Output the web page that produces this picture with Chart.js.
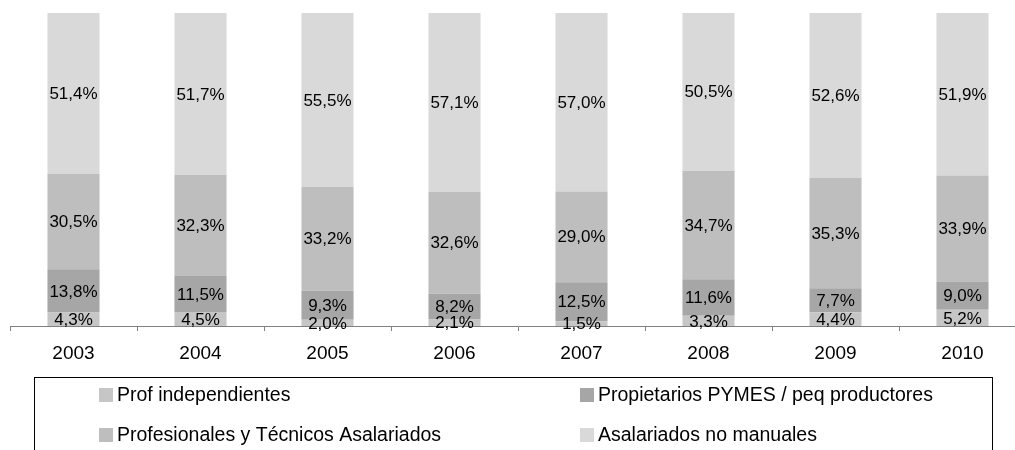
<!DOCTYPE html>
<html>
<head>
<meta charset="utf-8">
<script src="https://cdn.jsdelivr.net/npm/chart.js@4/dist/chart.umd.min.js"></script>
<style>
  html, body { margin: 0; padding: 0; background: #fff; overflow: hidden; }
  #wrap { width: 1015px; height: 450px; overflow: hidden; }
</style>
</head>
<body>
<div id="wrap"><canvas id="c" width="1030" height="450"></canvas></div>
<script>
const years = ['2003', '2004', '2005', '2006', '2007', '2008', '2009', '2010'];
const profIndependientes = [4.3, 4.5, 2.0, 2.1, 1.5, 3.3, 4.4, 5.2];
const propietariosPymes = [13.8, 11.5, 9.3, 8.2, 12.5, 11.6, 7.7, 9.0];
const profesionalesAsalariados = [30.5, 32.3, 33.2, 32.6, 29.0, 34.7, 35.3, 33.9];
const asalariadosNoManuales = [51.4, 51.7, 55.5, 57.1, 57.0, 50.5, 52.6, 51.9];

const seriesNames = [
  'Prof independientes',
  'Propietarios PYMES / peq productores',
  'Profesionales y Técnicos Asalariados',
  'Asalariados no manuales'
];
const seriesColors = ['#c6c6c6', '#a6a6a6', '#bebebe', '#d9d9d9'];
const FONT = '"Liberation Sans", Arial, sans-serif';

// value labels centred in each segment, "51,4%" style
const valueLabels = {
  id: 'valueLabels',
  afterDatasetsDraw(chart) {
    const ctx = chart.ctx;
    ctx.save();
    ctx.font = '17px ' + FONT;
    ctx.fillStyle = '#000';
    ctx.textAlign = 'center';
    ctx.textBaseline = 'middle';
    chart.data.datasets.forEach((ds, i) => {
      chart.getDatasetMeta(i).data.forEach((bar, j) => {
        const p = bar.getCenterPoint();
        ctx.fillText(ds.data[j].toFixed(1).replace('.', ',') + '%', p.x, p.y + 1);
      });
    });
    ctx.restore();
  }
};

// boxed two-column legend under the axis
const boxLegend = {
  id: 'boxLegend',
  afterDraw(chart) {
    const ctx = chart.ctx;
    ctx.save();
    ctx.strokeStyle = '#000';
    ctx.lineWidth = 1;
    ctx.strokeRect(34.5, 377.5, 958, 90);
    ctx.font = '19.5px ' + FONT;
    ctx.textBaseline = 'middle';
    ctx.fillStyle = '#000';
    const cols = [99, 580];
    const rows = [395, 435];
    chart.data.datasets.forEach((ds, i) => {
      const x = cols[i % 2], y = rows[Math.floor(i / 2)];
      ctx.fillStyle = ds.backgroundColor;
      ctx.fillRect(x, y - 7, 14, 14);
      ctx.fillStyle = '#000';
      ctx.fillText(ds.label, x + 18, y + 1);
    });
    ctx.restore();
  }
};

new Chart(document.getElementById('c'), {
  type: 'bar',
  data: {
    labels: years,
    datasets: [profIndependientes, propietariosPymes, profesionalesAsalariados, asalariadosNoManuales]
      .map((d, i) => ({
        label: seriesNames[i],
        data: d,
        backgroundColor: seriesColors[i],
        borderWidth: 0,
        categoryPercentage: 1,
        barPercentage: 0.41
      }))
  },
  options: {
    responsive: false,
    devicePixelRatio: 1,
    animation: false,
    layout: { padding: { top: 13, left: 10, right: 4, bottom: 0 } },
    plugins: { legend: { display: false }, tooltip: { enabled: false } },
    scales: {
      x: {
        stacked: true,
        afterFit(scale) { scale.height = 124; },
        grid: { display: true, drawOnChartArea: false, tickLength: 5, color: '#808080' },
        border: { display: true, color: '#808080' },
        ticks: { color: '#000', font: { family: FONT, size: 19 }, padding: 11 }
      },
      y: {
        stacked: true,
        display: false,
        min: 0,
        max: 100
      }
    }
  },
  plugins: [valueLabels, boxLegend]
});
</script>
</body>
</html>
